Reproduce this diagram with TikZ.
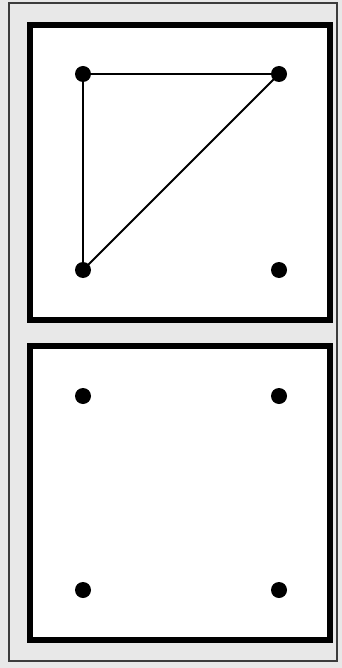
\documentclass[tikz,border=0pt]{standalone}
\definecolor{bandgrey}{RGB}{232,232,232}
\definecolor{framegrey}{RGB}{60,60,60}
\tikzset{
  frame/.style={draw=framegrey, line width=2pt},
  panel/.style={draw=black, fill=white, line width=5.5pt},
  dot/.style={circle, fill=black, inner sep=0pt, minimum size=16pt},
  edge/.style={draw=black, line width=2pt}
}
\begin{document}
\begin{tikzpicture}[x=1pt, y=-1pt]
  \useasboundingbox (0,0) rectangle (342,668);
  \fill[bandgrey] (0,0) rectangle (342,668);
  \draw[frame] (9,3) rectangle (337,661);
  \draw[panel] (30,25) rectangle (330,320);
  \draw[panel] (30,346) rectangle (330,640);
  % top panel dots
  \node[dot] (a1) at (83,74) {};
  \node[dot] (a2) at (279,74) {};
  \node[dot] (a3) at (83,270) {};
  \node[dot] (a4) at (279,270) {};
  % bottom panel dots
  \node[dot] (b1) at (83,396) {};
  \node[dot] (b2) at (279,396) {};
  \node[dot] (b3) at (83,590) {};
  \node[dot] (b4) at (279,590) {};
  % edges
  \draw[edge] (a1.center) -- (a2.center);
  \draw[edge] (a1.center) -- (a3.center);
  \draw[edge] (a3.center) -- (a2.center);
\end{tikzpicture}
\end{document}
